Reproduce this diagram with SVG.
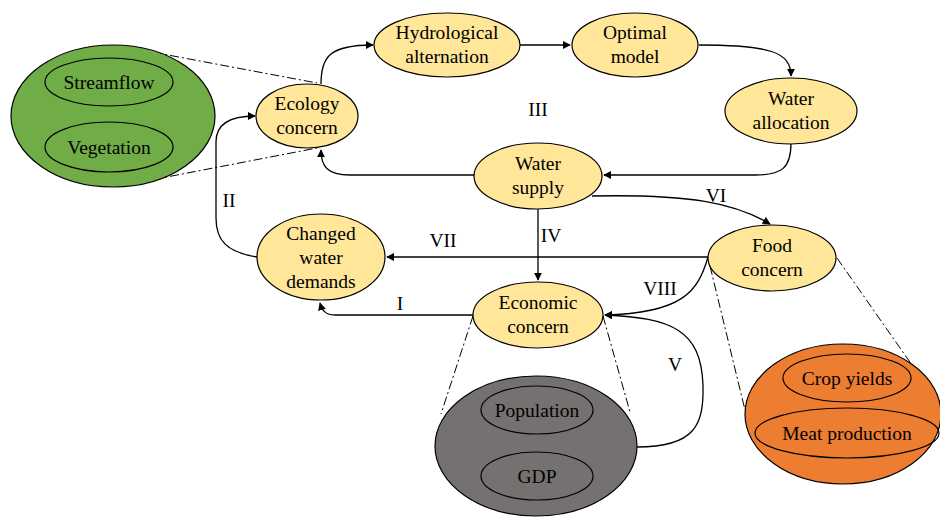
<svg xmlns="http://www.w3.org/2000/svg" width="940" height="517" viewBox="0 0 940 517">
  <style>
    .node { fill: #FFE699; stroke: #000; stroke-width: 1.2; }
    .grp { stroke: #000; stroke-width: 1.2; }
    .inner { fill: none; stroke: #000; stroke-width: 1.2; }
    .lbl { font-size: 19.5px; fill: #000; text-anchor: middle; }
    .edge { fill: none; stroke: #000; stroke-width: 1.3; }
    .lens { fill: none; stroke: #000; stroke-width: 1; stroke-dasharray: 9 3 2 3; }
  </style>
  <defs>
    <marker id="arrow" viewBox="0 0 10 10" refX="9" refY="5" markerWidth="8" markerHeight="8" markerUnits="userSpaceOnUse" orient="auto">
      <path d="M0,0 L10,5 L0,10 z" fill="#000"/>
    </marker>
  </defs>
  <rect width="940" height="517" fill="#fff"/>

  <!-- zoom-lens lines linking concerns with their detail groups -->
  <g id="lens-lines">
    <path class="lens" d="M120,46 L317,83"/>
    <path class="lens" d="M120,186 L317,148"/>
    <path class="lens" d="M473,316 L441,414"/>
    <path class="lens" d="M603,316 L630,412"/>
    <path class="lens" d="M710,266 L745,410"/>
    <path class="lens" d="M837,258 L940,405"/>
  </g>

  <g font-family="Liberation Serif, Times New Roman, serif">
  <!-- detail groups -->
  <g id="ecology-group">
    <ellipse class="grp" cx="113" cy="116" rx="102" ry="71" fill="#70AD47"/>
    <ellipse class="inner" cx="109" cy="82" rx="64" ry="24"/>
    <text class="lbl" x="109" y="89">Streamflow</text>
    <ellipse class="inner" cx="109" cy="147" rx="64" ry="25"/>
    <text class="lbl" x="109" y="154">Vegetation</text>
  </g>
  <g id="economic-group">
    <ellipse class="grp" cx="536" cy="446" rx="101" ry="70" fill="#757171"/>
    <ellipse class="inner" cx="537" cy="410" rx="56" ry="24"/>
    <text class="lbl" x="537" y="417">Population</text>
    <ellipse class="inner" cx="537" cy="476" rx="56" ry="24"/>
    <text class="lbl" x="537" y="483">GDP</text>
  </g>
  <g id="food-group">
    <ellipse class="grp" cx="843" cy="414" rx="98" ry="70" fill="#ED7D31"/>
    <ellipse class="inner" cx="847" cy="378" rx="64" ry="24"/>
    <text class="lbl" x="847" y="385">Crop yields</text>
    <ellipse class="inner" cx="847" cy="433" rx="92" ry="25"/>
    <text class="lbl" x="847" y="440">Meat production</text>
  </g>

  <!-- connectors -->
  <g id="connectors">
    <path class="edge" d="M321,84 C321,58 328,45 373,45" marker-end="url(#arrow)"/>
    <path class="edge" d="M520,45 L570,45" marker-end="url(#arrow)"/>
    <path class="edge" d="M699,45 C770,45 791,52 791,76" marker-end="url(#arrow)"/>
    <path class="edge" d="M791,143 C791,168 782,175 755,175 L604,175" marker-end="url(#arrow)"/>
    <path class="edge" d="M474,175 L350,175 C327,175 321,166 321,150" marker-end="url(#arrow)"/>
    <path class="edge" d="M257,257 C226,252 216,240 216,218 L216,142 C216,125 228,116 255,116" marker-end="url(#arrow)"/>
    <path class="edge" d="M538,208 L538,280" marker-end="url(#arrow)"/>
    <path class="edge" d="M592,196 C690,194 735,203 770,224" marker-end="url(#arrow)"/>
    <path class="edge" d="M708,257 L387,257" marker-end="url(#arrow)"/>
    <path class="edge" d="M708,257 C698,292 682,313 605,315" marker-end="url(#arrow)"/>
    <path class="edge" d="M473,315 L335,315 C325,315 322,310 320,303" marker-end="url(#arrow)"/>
    <path class="edge" d="M637,447 C695,447 704,425 703,385 C701,330 672,318 605,315" marker-end="url(#arrow)"/>
  </g>

  <!-- connector labels -->
  <g id="edge-labels">
    <text class="lbl" x="538" y="116">III</text>
    <text class="lbl" x="229" y="207">II</text>
    <text class="lbl" x="551" y="242">IV</text>
    <text class="lbl" x="716" y="202">VI</text>
    <text class="lbl" x="443" y="247">VII</text>
    <text class="lbl" x="660" y="295">VIII</text>
    <text class="lbl" x="400" y="310">I</text>
    <text class="lbl" x="675" y="371">V</text>
  </g>

  <!-- concern nodes -->
  <g id="ecology-concern">
    <ellipse class="node" cx="307" cy="116" rx="51" ry="32"/>
    <text class="lbl" x="307" y="110">Ecology</text>
    <text class="lbl" x="307" y="134">concern</text>
  </g>
  <g id="hydrological-alternation">
    <ellipse class="node" cx="447" cy="45" rx="73" ry="32"/>
    <text class="lbl" x="447" y="39">Hydrological</text>
    <text class="lbl" x="447" y="63">alternation</text>
  </g>
  <g id="optimal-model">
    <ellipse class="node" cx="635" cy="45" rx="63" ry="32"/>
    <text class="lbl" x="635" y="39">Optimal</text>
    <text class="lbl" x="635" y="63">model</text>
  </g>
  <g id="water-allocation">
    <ellipse class="node" cx="791" cy="111" rx="66" ry="33"/>
    <text class="lbl" x="791" y="105">Water</text>
    <text class="lbl" x="791" y="129">allocation</text>
  </g>
  <g id="water-supply">
    <ellipse class="node" cx="538" cy="176" rx="64" ry="33"/>
    <text class="lbl" x="538" y="170">Water</text>
    <text class="lbl" x="538" y="194">supply</text>
  </g>
  <g id="changed-water-demands">
    <ellipse class="node" cx="321" cy="257" rx="64" ry="43"/>
    <text class="lbl" x="321" y="240">Changed</text>
    <text class="lbl" x="321" y="264">water</text>
    <text class="lbl" x="321" y="288">demands</text>
  </g>
  <g id="economic-concern">
    <ellipse class="node" cx="538" cy="315" rx="65" ry="33"/>
    <text class="lbl" x="538" y="309">Economic</text>
    <text class="lbl" x="538" y="333">concern</text>
  </g>
  <g id="food-concern">
    <ellipse class="node" cx="772" cy="258" rx="64" ry="33"/>
    <text class="lbl" x="772" y="252">Food</text>
    <text class="lbl" x="772" y="276">concern</text>
  </g>
  </g>
</svg>
